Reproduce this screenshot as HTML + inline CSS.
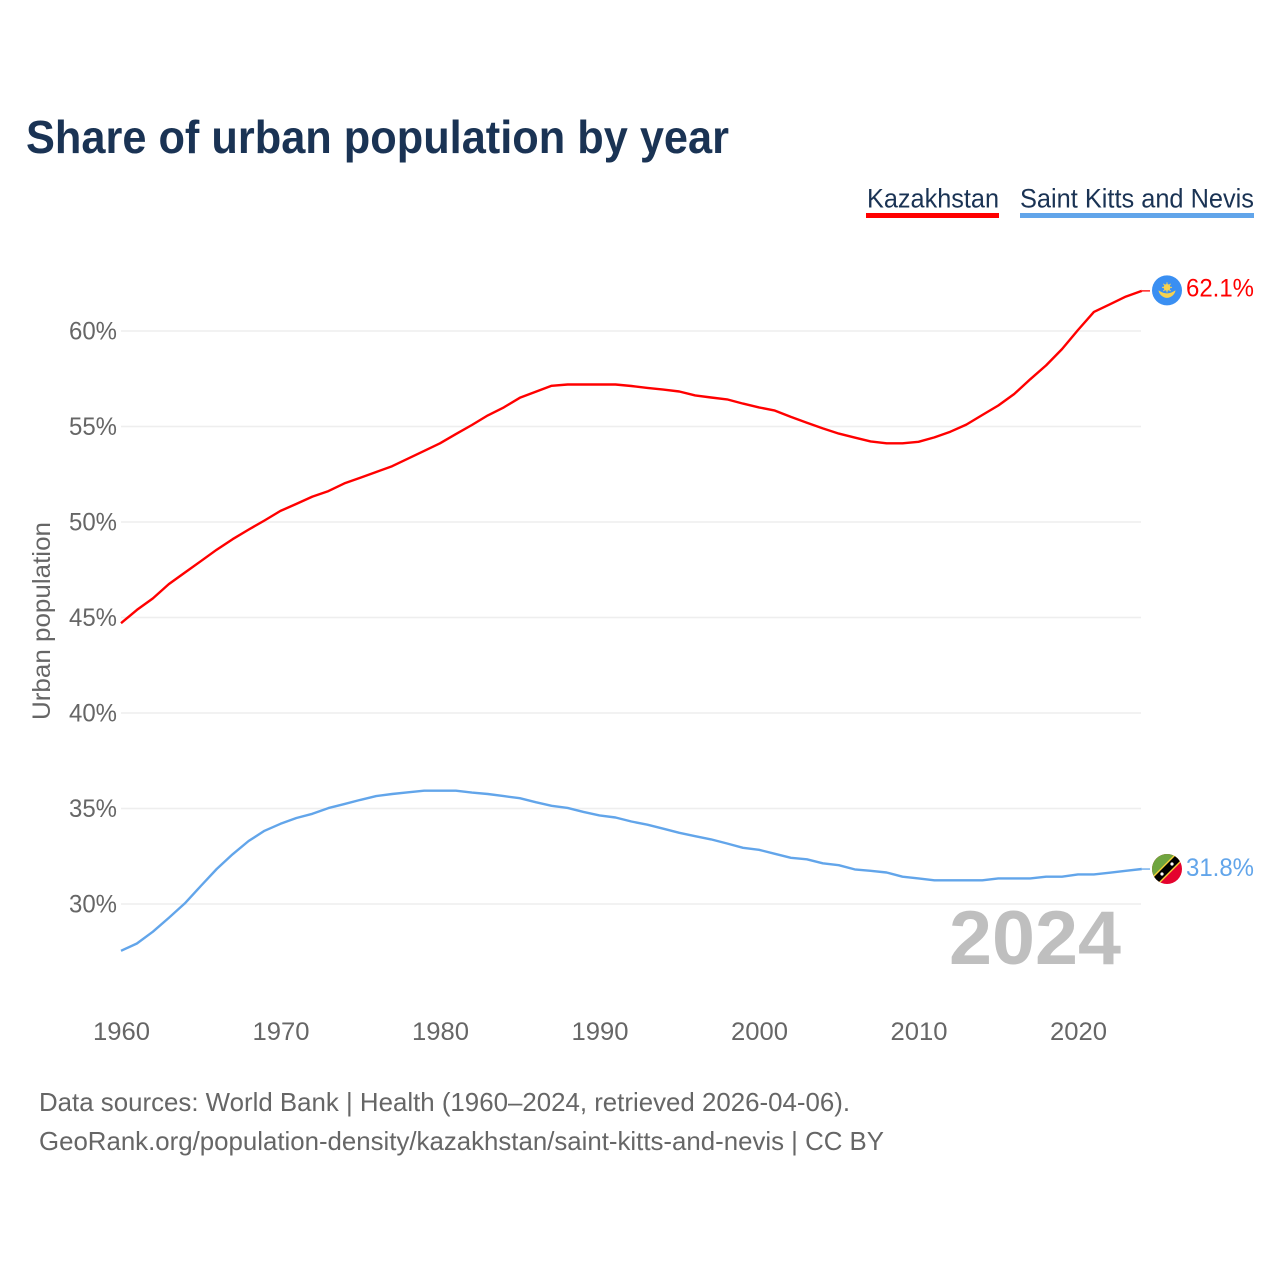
<!DOCTYPE html>
<html lang="en">
<head>
<meta charset="utf-8">
<title>Share of urban population by year</title>
<style>
html,body{margin:0;padding:0;background:#fff;}
svg{display:block;font-family:"Liberation Sans",sans-serif;}
</style>
</head>
<body>
<svg id="chart" xmlns="http://www.w3.org/2000/svg" width="1280" height="1280" viewBox="0 0 1280 1280">
  <rect x="0" y="0" width="1280" height="1280" fill="#ffffff"/>
  <text x="26" y="153" font-size="46" font-weight="700" fill="#1a3354" textLength="703" lengthAdjust="spacingAndGlyphs">Share of urban population by year</text>

  <g>
    <text x="867" y="207.5" font-size="27" fill="#1a3354" textLength="132" lengthAdjust="spacingAndGlyphs">Kazakhstan</text>
    <rect x="866" y="213" width="133" height="5" fill="#ff0000"/>
  </g>
  <g>
    <text x="1020" y="207.5" font-size="27" fill="#1a3354" textLength="234" lengthAdjust="spacingAndGlyphs">Saint Kitts and Nevis</text>
    <rect x="1020" y="213" width="234" height="5" fill="#62a5ea"/>
  </g>

  <g id="grid"></g>
  <g id="yticks"></g>
  <g id="xticks"></g>
  <text transform="translate(50,621) rotate(-90)" text-anchor="middle" font-size="25" fill="#666666" textLength="198" lengthAdjust="spacingAndGlyphs">Urban population</text>

  <text x="949" y="964" font-size="76" font-weight="700" fill="#bfbfbf" textLength="172" lengthAdjust="spacingAndGlyphs">2024</text>

  <g id="series"></g>
  <g id="ends"></g>

  <text x="39" y="1111" font-size="26" fill="#666666" textLength="811" lengthAdjust="spacingAndGlyphs">Data sources: World Bank | Health (1960–2024, retrieved 2026-04-06).</text>
  <text x="39" y="1150" font-size="26" fill="#666666" textLength="845" lengthAdjust="spacingAndGlyphs">GeoRank.org/population-density/kazakhstan/saint-kitts-and-nevis | CC BY</text>
</svg>
<script>
const startYear = 1960;
const xTickYears = [1960, 1970, 1980, 1990, 2000, 2010, 2020];
const yTickValues = [30, 35, 40, 45, 50, 55, 60];
const kazakhstanValues = [
  44.7, 45.4, 46.0, 46.75, 47.35, 47.95, 48.55, 49.1, 49.6, 50.08,
  50.58, 50.95, 51.33, 51.62, 52.02, 52.32, 52.62, 52.92, 53.32, 53.72,
  54.12, 54.6, 55.08, 55.58, 56.0, 56.5, 56.82, 57.13, 57.2, 57.2,
  57.2, 57.2, 57.12, 57.02, 56.93, 56.83, 56.63, 56.52, 56.42, 56.2,
  56.0, 55.83, 55.5, 55.2, 54.9, 54.63, 54.42, 54.22, 54.12, 54.12,
  54.2, 54.43, 54.73, 55.1, 55.6, 56.1, 56.7, 57.47, 58.2, 59.05,
  60.05, 61.0, 61.4, 61.8, 62.1
];
const saintKittsValues = [
  27.55, 27.93, 28.55, 29.27, 30.03, 30.94, 31.83, 32.6, 33.3, 33.83,
  34.2, 34.5, 34.72, 35.02, 35.23, 35.45, 35.65, 35.76, 35.85, 35.93,
  35.93, 35.93, 35.83, 35.76, 35.65, 35.54, 35.33, 35.14, 35.03, 34.82,
  34.64, 34.53, 34.32, 34.15, 33.94, 33.73, 33.55, 33.38, 33.17, 32.94,
  32.84, 32.63, 32.42, 32.34, 32.13, 32.03, 31.81, 31.74, 31.65, 31.43,
  31.34, 31.24, 31.24, 31.24, 31.24, 31.34, 31.34, 31.34, 31.43, 31.43,
  31.55, 31.55, 31.64, 31.74, 31.83
];
const kazakhstanEndLabel = "62.1%";
const saintKittsEndLabel = "31.8%";

const NS = "http://www.w3.org/2000/svg";
const xScale = function (year) { return 121 + (year - 1960) * 15.95; };
const yScale = function (value) { return 904 - (value - 30) * 19.1; };
function make(tag, parent) {
  const el = document.createElementNS(NS, tag);
  parent.appendChild(el);
  return el;
}
function setAll(el, attrs) {
  Object.keys(attrs).forEach(function (k) { el.setAttribute(k, attrs[k]); });
}
const gridG = document.getElementById("grid");
const yG = document.getElementById("yticks");
const xG = document.getElementById("xticks");
const seriesG = document.getElementById("series");
const endsG = document.getElementById("ends");

yTickValues.forEach(function (v) {
  const line = make("line", gridG);
  
  
  setAll(line, {x1: 121, x2: 1141, y1: yScale(v), y2: yScale(v), stroke: "#eeeeee", "stroke-width": 1.5});
  const t = make("text", yG);
  
  
  setAll(t, {x: 117, y: yScale(v) + 8.5, "text-anchor": "end", "font-size": 25, fill: "#666666", textLength: 48, lengthAdjust: "spacingAndGlyphs"});
  t.textContent = v + "%";
});
xTickYears.forEach(function (yr) {
  const t = make("text", xG);
  
  
  setAll(t, {x: xScale(yr) + 0.5, y: 1040, "text-anchor": "middle", "font-size": 25, fill: "#666666", textLength: 57, lengthAdjust: "spacingAndGlyphs"});
  t.textContent = yr;
});

function drawLine(values, color, name) {
  const pts = values.map(function (v, i) { return xScale(startYear + i).toFixed(1) + "," + yScale(v).toFixed(1); });
  const lastY = yScale(values[values.length - 1]);
  const p = make("polyline", seriesG);
  
  
  setAll(p, {points: pts.join(" "), fill: "none", stroke: color, "stroke-width": 2.4, "stroke-linejoin": "round"});
  const tail = make("line", seriesG);
  
  
  setAll(tail, {x1: xScale(startYear + values.length - 1), x2: 1150, y1: lastY, y2: lastY, stroke: color, "stroke-width": 1.3});
}
drawLine(kazakhstanValues, "#ff0000", "line-kazakhstan");
drawLine(saintKittsValues, "#62a5ea", "line-saint-kitts-and-nevis");

function endLabel(value, label, color, name, dy) {
  const t = make("text", endsG);
  
  
  setAll(t, {x: 1186, y: yScale(value) + dy, "font-size": 25, fill: color, textLength: 68, lengthAdjust: "spacingAndGlyphs"});
  t.textContent = label;
}
const kzY = yScale(kazakhstanValues[kazakhstanValues.length - 1]);
const kn = saintKittsValues[saintKittsValues.length - 1];
const knY = yScale(kn);
endLabel(kazakhstanValues[kazakhstanValues.length - 1], kazakhstanEndLabel, "#ff0000", "end-label-kazakhstan", 5.5);
endLabel(kn, saintKittsEndLabel, "#62a5ea", "end-label-saint-kitts-and-nevis", 7);

const kzFlag = make("g", endsG);


kzFlag.setAttribute("transform", "translate(1167," + (kzY - 0.5).toFixed(1) + ")");
kzFlag.innerHTML = '<circle r="15" fill="#3a8ff2"/><circle cy="-3" r="3.4" fill="#f6d24f"/><path d="M0,-8 V2 M-5,-3 H5 M-3.6,-6.6 L3.6,0.6 M3.6,-6.6 L-3.6,0.6" stroke="#f6d24f" stroke-width="1"/><path d="M-8.5,0 C-6.5,1 -4,3 0,3 C4,3 6.5,1 8.5,0 C8,4 4,7.5 0,7.5 C-4,7.5 -8,4 -8.5,0 Z" fill="#f6d24f"/>';

const knFlag = make("g", endsG);


knFlag.setAttribute("transform", "translate(1167," + knY.toFixed(1) + ")");
knFlag.innerHTML = '<clipPath id="knClip"><circle r="15"/></clipPath><g clip-path="url(#knClip)"><rect x="-16" y="-16" width="32" height="32" fill="#e4032e"/><path d="M-16,-16 H16 L-16,16 Z" fill="#6fa53f"/><path d="M-16,9 L9,-16 L16,-16 L16,-9 L-9,16 L-16,16 Z" fill="#f7d23b"/><path d="M-16,11 L11,-16 L16,-16 L16,-11 L-11,16 L-16,16 Z" fill="#000000"/><circle cx="-5" cy="5" r="1.6" fill="#fff"/><circle cx="5" cy="-5" r="1.6" fill="#fff"/></g>';
</script>
</body>
</html>
